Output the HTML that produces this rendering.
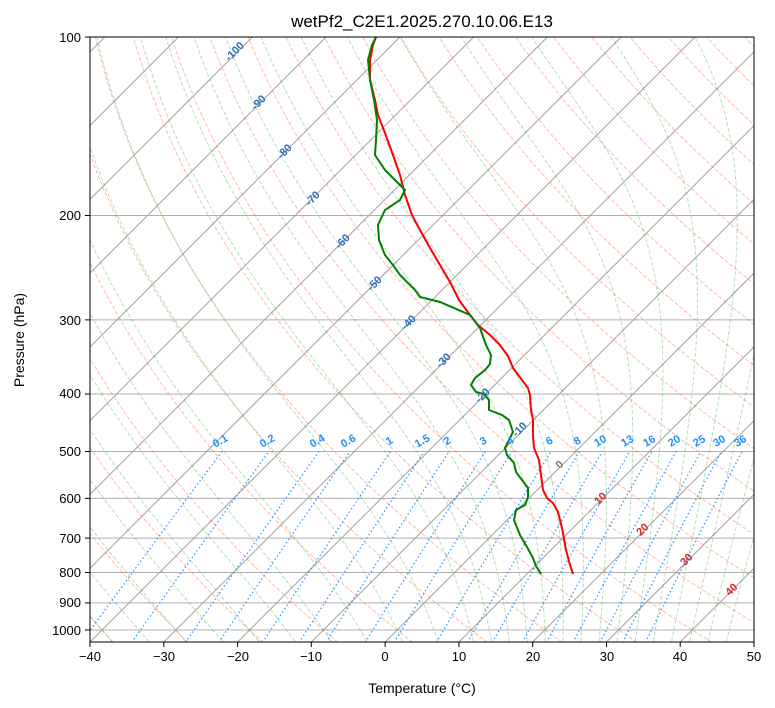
<!DOCTYPE html>
<html><head><meta charset="utf-8"><style>
html,body{margin:0;padding:0;background:#fff;}
svg{display:block;font-family:"Liberation Sans","DejaVu Sans",sans-serif;}
</style></head><body>
<svg id="s" width="775" height="708" viewBox="0 0 775 708" xmlns="http://www.w3.org/2000/svg">
<defs><clipPath id="c"><rect x="90" y="37" width="664" height="605"/></clipPath></defs>
<g id="lines" clip-path="url(#c)"></g>
<g id="prof" clip-path="url(#c)"></g>
<g id="ticks" stroke="#000" stroke-width="1"></g>
<rect x="90" y="37" width="664" height="605" fill="none" stroke="#000" stroke-width="1"/>
<text x="422" y="27" font-size="17" text-anchor="middle">wetPf2_C2E1.2025.270.10.06.E13</text>
<g font-size="13" text-anchor="end">
<text x="81" y="42">100</text><text x="81" y="220">200</text><text x="81" y="325">300</text>
<text x="81" y="398">400</text><text x="81" y="456">500</text><text x="81" y="503">600</text>
<text x="81" y="543">700</text><text x="81" y="577">800</text><text x="81" y="607">900</text>
<text x="81" y="635">1000</text>
</g>
<g font-size="13" text-anchor="middle">
<text x="90" y="661">−40</text><text x="164" y="661">−30</text><text x="238" y="661">−20</text>
<text x="311" y="661">−10</text><text x="385" y="661">0</text><text x="459" y="661">10</text>
<text x="533" y="661">20</text><text x="607" y="661">30</text><text x="680" y="661">40</text>
<text x="754" y="661">50</text>
</g>
<text x="422" y="693" font-size="14" text-anchor="middle">Temperature (°C)</text>
<text transform="translate(24,340) rotate(-90)" font-size="14" text-anchor="middle">Pressure (hPa)</text>
<g font-size="11" font-weight="bold" fill="#2a70b8" text-anchor="middle">
<text transform="translate(237,54) rotate(-45)">-100</text>
<text transform="translate(261,105) rotate(-45)">-90</text>
<text transform="translate(287,154) rotate(-45)">-80</text>
<text transform="translate(315,201) rotate(-45)">-70</text>
<text transform="translate(345,244) rotate(-45)">-60</text>
<text transform="translate(377,286) rotate(-45)">-50</text>
<text transform="translate(411,325) rotate(-45)">-40</text>
<text transform="translate(446,363) rotate(-45)">-30</text>
<text transform="translate(485,398) rotate(-45)">-20</text>
<text transform="translate(522,432) rotate(-45)">-10</text>
<text transform="translate(562,467) rotate(-45)" fill="#777">0</text>
<text transform="translate(603,501) rotate(-45)" fill="#d62728">10</text>
<text transform="translate(645,532) rotate(-45)" fill="#d62728">20</text>
<text transform="translate(689,562) rotate(-45)" fill="#d62728">30</text>
<text transform="translate(734,592) rotate(-45)" fill="#d62728">40</text>
</g>
<g font-size="11" font-weight="bold" fill="#1e90ff" text-anchor="middle">
<text transform="translate(222,444) rotate(-30)">0.1</text>
<text transform="translate(269,444) rotate(-30)">0.2</text>
<text transform="translate(319,444) rotate(-30)">0.4</text>
<text transform="translate(350,444) rotate(-30)">0.6</text>
<text transform="translate(391,444) rotate(-30)">1</text>
<text transform="translate(424,444) rotate(-30)">1.5</text>
<text transform="translate(449,444) rotate(-30)">2</text>
<text transform="translate(485,444) rotate(-30)">3</text>
<text transform="translate(512,444) rotate(-30)">4</text>
<text transform="translate(551,444) rotate(-30)">6</text>
<text transform="translate(579,444) rotate(-30)">8</text>
<text transform="translate(602,444) rotate(-30)">10</text>
<text transform="translate(629,444) rotate(-30)">13</text>
<text transform="translate(651,444) rotate(-30)">16</text>
<text transform="translate(676,444) rotate(-30)">20</text>
<text transform="translate(701,444) rotate(-30)">25</text>
<text transform="translate(721,444) rotate(-30)">30</text>
<text transform="translate(742,444) rotate(-30)">36</text>
</g>
</svg>
<script>
(function(){
var NS="http://www.w3.org/2000/svg";
function Y(p){return 37+593*Math.log10(p/100);}
function X(T,p){return 90+(T+40)*7.378+(642-Y(p));}
var L=document.getElementById("lines"),P=document.getElementById("prof"),TK=document.getElementById("ticks");
function path(g,pts,st,w,dash,op){var d="";pts.forEach(function(q,i){d+=(i?"L":"M")+q[0].toFixed(1)+" "+q[1].toFixed(1);});
var e=document.createElementNS(NS,"path");e.setAttribute("d",d);e.setAttribute("fill","none");e.setAttribute("stroke",st);
e.setAttribute("stroke-width",w);if(dash)e.setAttribute("stroke-dasharray",dash);if(op)e.setAttribute("stroke-opacity",op);g.appendChild(e);}
[100,200,300,400,500,600,700,800,900,1000].forEach(function(p){path(L,[[90,Y(p)],[754,Y(p)]],"#b0b0b0",1);path(TK,[[85,Y(p)],[90,Y(p)]],"#000",1);});
for(var t=-40;t<=50;t+=10){var x=90+(t+40)*7.378;path(TK,[[x,642],[x,647]],"#000",1);}
for(var T=-160;T<=60;T+=10){path(L,[[X(T,1050),Y(1050)],[X(T,100),Y(100)]],"#a0a0a0",1);}
var ps=[];for(var p=1050;p>=100;p-=5)ps.push(p);
for(var t0=-40;t0<=200;t0+=10){var th=t0+273.15;path(L,ps.map(function(p){return [X(th*Math.pow(p/1000,0.2857)-273.15,p),Y(p)];}),"#ff6347",1,"4,2","0.45");}
var ts=[];for(var t=-50;t<=10;t+=5)ts.push(t);for(t=12.5;t<=45;t+=2.5)ts.push(t);
function dTdp(Tk,p){var tc=Tk-273.15,es=6.112*Math.exp(17.67*tc/(tc+243.5)),rs=0.622*es/(p-es);
return (287.04*Tk+2.501e6*rs)/(1005.7+2.501e6*2.501e6*rs*0.622/(287.04*Tk*Tk))/p;}
ts.forEach(function(t0){var pts=[],Tk=t0+273.15,p=1000;
var up=[];var T2=Tk;for(var q=1000;q<1050;q+=5){up.push([X(T2-273.15,q),Y(q)]);T2+=dTdp(T2,q)*5;}
for(p=1000;p>=100;p-=2){pts.push([X(Tk-273.15,p),Y(p)]);Tk-=dTdp(Tk,p)*2;}
path(L,up.reverse().concat(pts),"#2ca02c",1,"4,2","0.35");});
[0.1,0.2,0.4,0.6,1,1.5,2,3,4,6,8,10,13,16,20,25,30,36].forEach(function(w){var pts=[];
for(var p=1050;p>=500;p-=10){var e=p*w/(622+w),l=Math.log(e/6.112),td=243.5*l/(17.67-l);pts.push([X(td,p),Y(p)]);}
path(L,pts,"#1e90ff",1.3,"1.5,2.5","0.9");});
var tp=[[573,574],[570,565],[566,550],[562,528],[558,512],[553,503],[547,498],[543,490],[541,475],[539,460],[534,448],[533,437],[533,420],[531,410],[530,395],[528,388],[522,380],[513,368],[508,356],[500,345],[490,335],[478,325],[470,315],[459,300],[450,282],[440,265],[430,248],[420,230],[412,215],[405,195],[400,175],[393,155],[385,133],[378,115],[375,100],[370,80],[370,60],[373,45],[376,37]];
var dp=[[541,574],[536,566],[533,558],[527,547],[520,535],[514,520],[516,510],[525,505],[528,497],[528,488],[522,480],[516,472],[514,463],[507,455],[505,448],[509,440],[513,432],[509,420],[502,415],[489,410],[489,400],[484,394],[476,392],[471,385],[475,378],[485,370],[490,364],[491,355],[486,345],[480,328],[470,315],[440,302],[420,297],[415,290],[400,275],[393,265],[385,255],[379,240],[378,225],[385,210],[400,200],[405,190],[395,180],[385,170],[375,155],[376,140],[377,120],[374,100],[370,80],[368,60],[372,45],[376,37]];
path(P,tp,"#ff0000",2);path(P,dp,"#008000",2);
})();
</script>
</body></html>
